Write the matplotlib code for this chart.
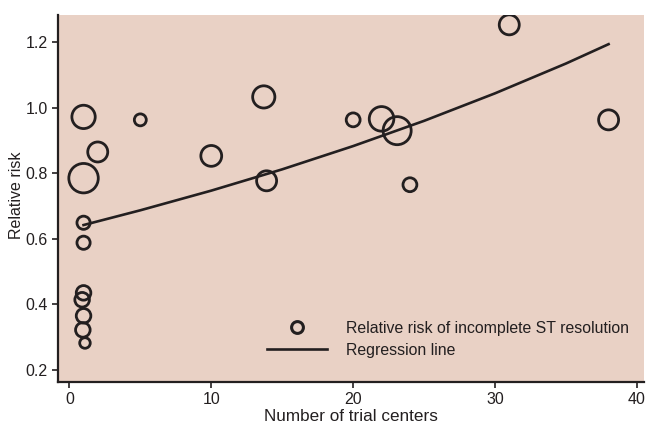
import matplotlib.pyplot as plt
from matplotlib.lines import Line2D

# trial centers vs relative risk, marker diameter (pt) ~ trial weight
centers = [1, 1, 2, 5, 1, 1, 1, 0.9, 1, 0.95, 1.1, 10, 13.7, 13.9, 20, 22, 23.1, 24, 31, 38]
rel_risk = [0.785, 0.972, 0.865, 0.963, 0.649, 0.588, 0.435, 0.414, 0.365, 0.322, 0.282,
            0.853, 1.033, 0.777, 0.963, 0.966, 0.930, 0.765, 1.253, 0.963]
marker_d = [21.2, 16.8, 14.4, 8.6, 9.5, 9.5, 10.5, 10.5, 10.5, 10.5, 7.6,
            15.0, 16.0, 14.4, 10.0, 17.7, 20.2, 10.0, 14.4, 14.4]

# regression line
reg_x = [1, 5, 10, 15, 20, 25, 30, 35, 38]
reg_y = [0.642, 0.687, 0.747, 0.812, 0.883, 0.960, 1.044, 1.135, 1.194]

ink = "#231f20"
bg = "#e9d1c5"

fig = plt.figure(figsize=(6.46, 4.25), dpi=100)
ax = fig.add_axes([0.0898, 0.1012, 0.9072, 0.8635])
ax.set_facecolor(bg)

ax.scatter(centers, rel_risk, s=[d ** 2 for d in marker_d], facecolors="none",
           edgecolors=ink, linewidths=2.0, zorder=3)
ax.plot(reg_x, reg_y, color=ink, lw=1.9, zorder=2)

ax.set_xlim(-0.8, 40.5)
ax.set_ylim(0.163, 1.283)
ax.set_xticks([0, 10, 20, 30, 40])
ax.set_yticks([0.2, 0.4, 0.6, 0.8, 1.0, 1.2])
ax.set_yticklabels(["0.2", "0.4", "0.6", "0.8", "1.0", "1.2"])

for s in ["top", "right"]:
    ax.spines[s].set_visible(False)
for s in ["left", "bottom"]:
    ax.spines[s].set_color(ink)
    ax.spines[s].set_linewidth(1.6)

ax.tick_params(direction="out", length=4, width=1.2, color=ink, labelcolor=ink, labelsize=11.5)
for lbl in ax.get_xticklabels() + ax.get_yticklabels():
    lbl.set_family(["Liberation Sans Narrow", "Liberation Sans"])

ax.set_xlabel("Number of trial centers", fontsize=12.3, color=ink, family="Liberation Sans", labelpad=1)
ax.set_ylabel("Relative risk", fontsize=11.5, color=ink, family="Liberation Sans")
ax.yaxis.set_label_coords(-0.058, 0.5095)

handles = [
    Line2D([], [], marker="o", ls="none", ms=8.5, mfc="none", mec=ink, mew=2.2),
    Line2D([], [], color=ink, lw=1.9),
]
labels = ["Relative risk of incomplete ST resolution", "Regression line"]
leg = ax.legend(handles, labels, loc="lower left", bbox_to_anchor=(0.343, 0.044),
                frameon=False, borderpad=0, handlelength=3.8, handletextpad=1.2,
                labelspacing=0.45, prop={"family": "Liberation Sans", "size": 11.4})
for t in leg.get_texts():
    t.set_color(ink)

fig.savefig("out.png", dpi=100, facecolor="white")
